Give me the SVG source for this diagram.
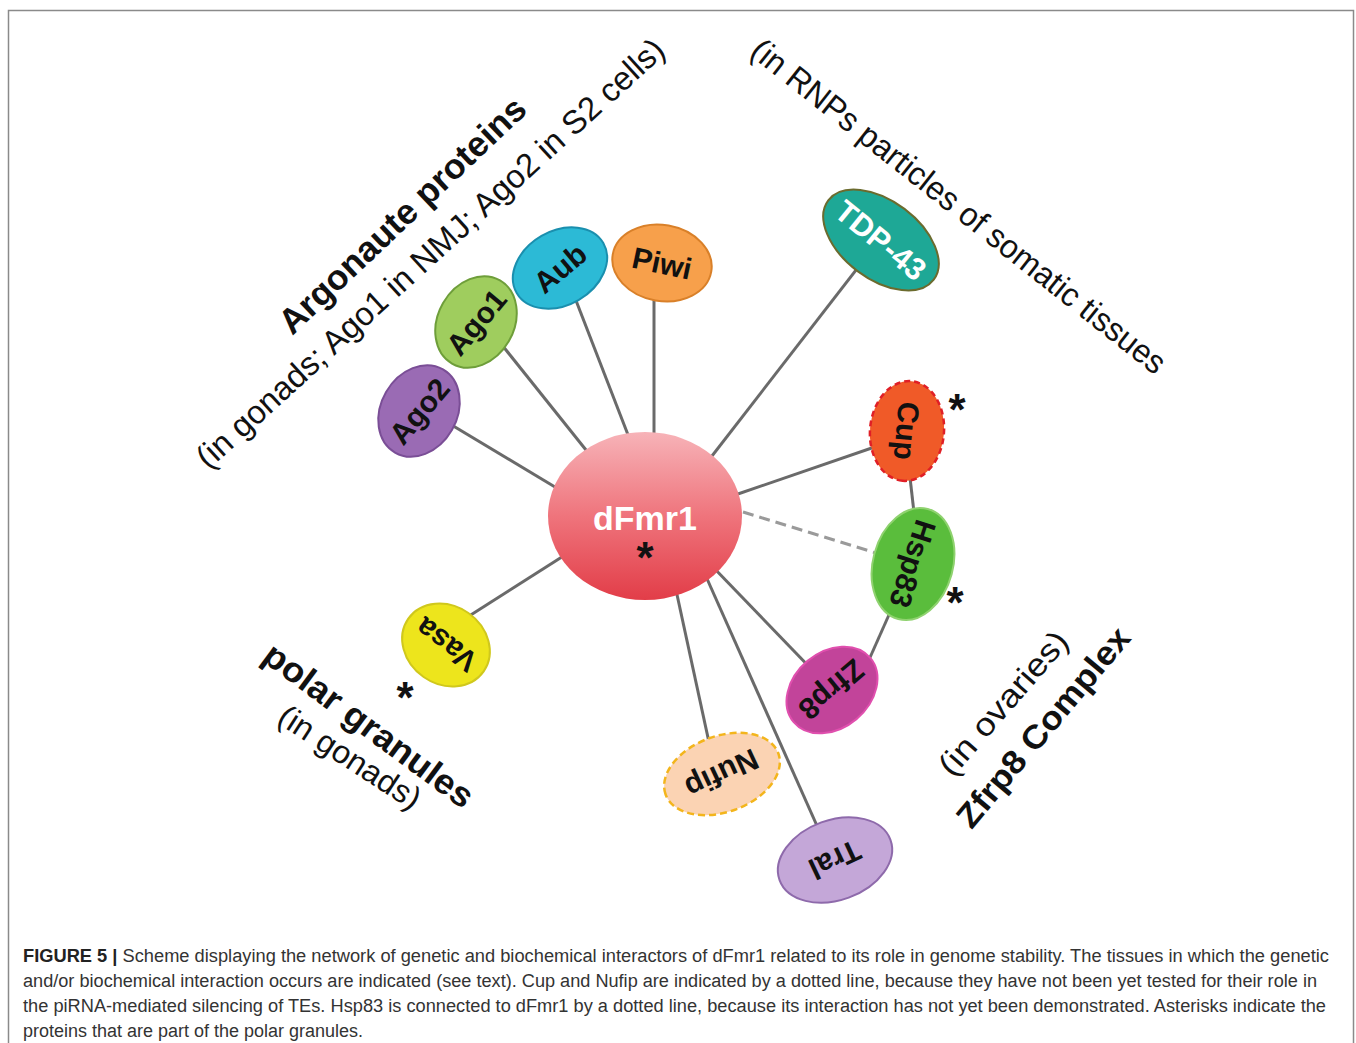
<svg xmlns="http://www.w3.org/2000/svg" width="1356" height="1043" viewBox="0 0 1356 1043">
<defs>
<style>
.frame{fill:none;stroke:#8a8a8a;stroke-width:1.5}
.ln{stroke:#6a6a6a;stroke-width:3;fill:none}
.dash{stroke:#9a9a9a;stroke-width:3;stroke-dasharray:11 6;fill:none}
.nt{font-family:"Liberation Sans",Arial,sans-serif;font-weight:bold;font-size:30px;fill:#111;text-anchor:middle}
.lbl{font-family:"Liberation Sans",Arial,sans-serif;fill:#111;text-anchor:middle}
.b{font-weight:bold}
.ast{font-family:"Liberation Sans",Arial,sans-serif;font-weight:bold;font-size:44px;fill:#111;text-anchor:middle}
.cap{font-family:"Liberation Sans",Arial,sans-serif;font-size:18px;fill:#333}
</style>
<linearGradient id="gF" x1="0" y1="0" x2="0" y2="1">
<stop offset="0" stop-color="#f7b3b8"/>
<stop offset="0.5" stop-color="#ef747c"/>
<stop offset="1" stop-color="#e23d48"/>
</linearGradient>
</defs>
<rect class="frame" x="8.5" y="10.5" width="1345" height="1045"/>

<g id="connectors">
<line class="ln" x1="430" y1="412" x2="560" y2="490"/>
<line class="ln" x1="490" y1="330" x2="590" y2="455"/>
<line class="ln" x1="570" y1="285" x2="630" y2="440"/>
<line class="ln" x1="654" y1="280" x2="654" y2="440"/>
<line class="ln" x1="870" y1="252" x2="705" y2="465"/>
<line class="ln" x1="895" y1="440" x2="735" y2="495"/>
<line class="ln" x1="908" y1="460" x2="916" y2="530"/>
<line class="dash" x1="743" y1="512" x2="876" y2="553"/>
<line class="ln" x1="900" y1="590" x2="860" y2="680"/>
<line class="ln" x1="820" y1="678" x2="712" y2="566"/>
<line class="ln" x1="830" y1="855" x2="704" y2="572"/>
<line class="ln" x1="715" y1="770" x2="676" y2="590"/>
<line class="ln" x1="455" y1="625" x2="565" y2="555"/>
</g>

<g id="n-dFmr1">
<ellipse cx="645" cy="516" rx="97" ry="84" fill="url(#gF)"/>
<text class="nt" x="645" y="530" style="font-size:34px;fill:#fff">dFmr1</text>
<text class="ast" x="645" y="573">*</text>
</g>
<g id="n-Ago2" transform="translate(419,411)">
<ellipse rx="48" ry="38" transform="rotate(-60)" fill="#9a6bb4" stroke="#7a4e96" stroke-width="2"/>
<text class="nt" transform="rotate(-50)" dy="0.36em">Ago2</text>
</g>
<g id="n-Ago1" transform="translate(476,322)">
<ellipse rx="48" ry="38" transform="rotate(-60)" fill="#9fcd5e" stroke="#6e9e3a" stroke-width="2"/>
<text class="nt" transform="rotate(-50)" dy="0.36em">Ago1</text>
</g>
<g id="n-Aub" transform="translate(560,268)">
<ellipse rx="50" ry="37" transform="rotate(-30)" fill="#2cbad6" stroke="#1a8fae" stroke-width="2"/>
<text class="nt" transform="rotate(-40)" dy="0.36em">Aub</text>
</g>
<g id="n-Piwi" transform="translate(662,263)">
<ellipse rx="50" ry="38" transform="rotate(10)" fill="#f7a04b" stroke="#d98029" stroke-width="2"/>
<text class="nt" transform="rotate(12)" dy="0.36em">Piwi</text>
</g>
<g id="n-TDP43" transform="translate(881,240)">
<ellipse rx="66" ry="39" transform="rotate(37)" fill="#1ea896" stroke="#6b6b2e" stroke-width="2"/>
<text class="nt" transform="rotate(39)" dy="0.36em" style="fill:#fff;font-size:31px">TDP-43</text>
</g>
<g id="n-Cup" transform="translate(907,431)">
<ellipse rx="50" ry="37" transform="rotate(95)" fill="#f05a28" stroke="#e01f26" stroke-width="2.5" stroke-dasharray="6 4"/>
<text class="nt" transform="rotate(95)" dy="0.36em">Cup</text>
</g>
<text class="ast" x="957" y="425">*</text>
<g id="n-Hsp83" transform="translate(913,564)">
<ellipse rx="57" ry="40" transform="rotate(105)" fill="#5abd3c" stroke="#8fd26f" stroke-width="2"/>
<text class="nt" transform="rotate(108)" dy="0.36em">Hsp83</text>
</g>
<text class="ast" x="955" y="618">*</text>
<g id="n-Zfrp8" transform="translate(832,690)">
<ellipse rx="50" ry="38" transform="rotate(140)" fill="#c2449a" stroke="#e04fae" stroke-width="2"/>
<text class="nt" transform="rotate(140)" dy="0.36em">Zfrp8</text>
</g>
<g id="n-Nufip" transform="translate(722,774)">
<ellipse rx="60" ry="38" transform="rotate(160)" fill="#fbd3b3" stroke="#f3b51c" stroke-width="2.5" stroke-dasharray="7 4"/>
<text class="nt" transform="rotate(155)" dy="0.36em">Nufip</text>
</g>
<g id="n-Tral" transform="translate(835,860)">
<ellipse rx="59" ry="40" transform="rotate(160)" fill="#c4a7d8" stroke="#8e6aab" stroke-width="2"/>
<text class="nt" transform="rotate(155)" dy="0.36em">Tral</text>
</g>
<g id="n-Vasa" transform="translate(446,645)">
<ellipse rx="46" ry="39" transform="rotate(-145)" fill="#ede51c" stroke="#d0c81c" stroke-width="2"/>
<text class="nt" transform="rotate(-143)" dy="0.36em">Vasa</text>
</g>
<text class="ast" x="405" y="713">*</text>

<g id="labels">
<text class="lbl b" transform="translate(402,215) rotate(-43.5)" dy="0.35em" style="font-size:35px" textLength="326" lengthAdjust="spacingAndGlyphs">Argonaute proteins</text>
<text class="lbl" transform="translate(430,253) rotate(-42.3)" dy="0.35em" style="font-size:33px" textLength="620" lengthAdjust="spacingAndGlyphs">(in gonads; Ago1 in NMJ; Ago2 in S2 cells)</text>
<text class="lbl" transform="translate(959,206) rotate(38.3)" dy="0.35em" style="font-size:33px" textLength="518" lengthAdjust="spacingAndGlyphs">(in RNPs particles of somatic tissues</text>
<text class="lbl b" transform="translate(369,725) rotate(36.5)" dy="0.35em" style="font-size:35px" textLength="252" lengthAdjust="spacingAndGlyphs">polar granules</text>
<text class="lbl" transform="translate(350,757) rotate(33)" dy="0.35em" style="font-size:32px" textLength="163" lengthAdjust="spacingAndGlyphs">(in gonads)</text>
<text class="lbl" transform="translate(1003,703) rotate(-49)" dy="0.35em" style="font-size:32px" textLength="180" lengthAdjust="spacingAndGlyphs">(in ovaries)</text>
<text class="lbl b" transform="translate(1043,727) rotate(-50)" dy="0.35em" style="font-size:33px" textLength="250" lengthAdjust="spacingAndGlyphs">Zfrp8 Complex</text>
</g>

<g id="caption">
<text class="cap" x="23" y="962" textLength="1306" lengthAdjust="spacingAndGlyphs"><tspan font-weight="bold" fill="#222">FIGURE 5 | </tspan>Scheme displaying the network of genetic and biochemical interactors of dFmr1 related to its role in genome stability. The tissues in which the genetic</text>
<text class="cap" x="23" y="987" textLength="1294" lengthAdjust="spacingAndGlyphs">and/or biochemical interaction occurs are indicated (see text). Cup and Nufip are indicated by a dotted line, because they have not been yet tested for their role in</text>
<text class="cap" x="23" y="1012" textLength="1303" lengthAdjust="spacingAndGlyphs">the piRNA-mediated silencing of TEs. Hsp83 is connected to dFmr1 by a dotted line, because its interaction has not yet been demonstrated. Asterisks indicate the</text>
<text class="cap" x="23" y="1037" textLength="340" lengthAdjust="spacingAndGlyphs">proteins that are part of the polar granules.</text>
</g>
</svg>
